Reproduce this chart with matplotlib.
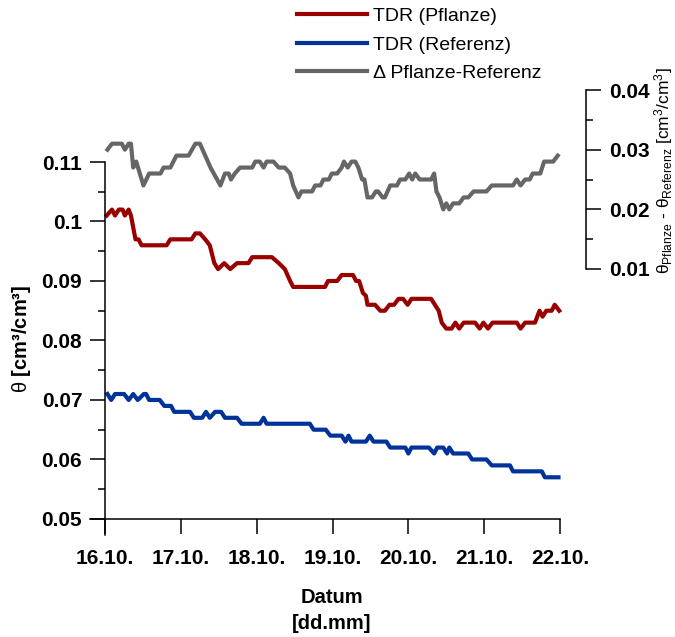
import matplotlib
matplotlib.use("Agg")
import matplotlib.pyplot as plt
from matplotlib.ticker import MultipleLocator

plt.rcParams['font.family'] = ['Liberation Sans', 'DejaVu Sans']
plt.rcParams['mathtext.fontset'] = 'custom'
plt.rcParams['mathtext.rm'] = 'Liberation Sans'
plt.rcParams['mathtext.it'] = 'Liberation Sans'
plt.rcParams['mathtext.bf'] = 'Liberation Sans:bold'

# x positions in days after 16.10.
day_ticks = [0, 1, 2, 3, 4, 5, 6]
day_labels = ['16.10.', '17.10.', '18.10.', '19.10.', '20.10.', '21.10.', '22.10.']

left_ticks = [0.05, 0.06, 0.07, 0.08, 0.09, 0.10, 0.11]
left_labels = ['0.05', '0.06', '0.07', '0.08', '0.09', '0.1', '0.11']
right_ticks = [0.01, 0.02, 0.03, 0.04]
right_labels = ['0.01', '0.02', '0.03', '0.04']

# TDR (Pflanze)
pflanze_t = [0.02, 0.09, 0.13, 0.18, 0.23, 0.26, 0.31, 0.34, 0.40, 0.44, 0.48, 0.81,
             0.86, 1.14, 1.19, 1.25, 1.32, 1.38, 1.44, 1.49, 1.57, 1.65, 1.74, 1.89,
             1.94, 2.20, 2.29, 2.37, 2.44, 2.48, 2.90, 2.94, 3.06, 3.12, 3.27, 3.31,
             3.35, 3.40, 3.44, 3.46, 3.56, 3.63, 3.69, 3.75, 3.81, 3.87, 3.93, 3.99,
             4.04, 4.30, 4.35, 4.40, 4.44, 4.50, 4.57, 4.62, 4.67, 4.73, 4.88, 4.94,
             4.99, 5.05, 5.11, 5.43, 5.48, 5.54, 5.67, 5.73, 5.77, 5.82, 5.89, 5.93, 5.99]
pflanze_v = [0.101, 0.102, 0.101, 0.102, 0.102, 0.101, 0.102, 0.101, 0.097, 0.097, 0.096, 0.096,
             0.097, 0.097, 0.098, 0.098, 0.097, 0.096, 0.093, 0.092, 0.093, 0.092, 0.093, 0.093,
             0.094, 0.094, 0.093, 0.092, 0.090, 0.089, 0.089, 0.090, 0.090, 0.091, 0.091, 0.090,
             0.090, 0.088, 0.0875, 0.086, 0.086, 0.085, 0.085, 0.086, 0.086, 0.087, 0.087, 0.086,
             0.087, 0.087, 0.086, 0.085, 0.083, 0.082, 0.082, 0.083, 0.082, 0.083, 0.083, 0.082,
             0.083, 0.082, 0.083, 0.083, 0.082, 0.083, 0.083, 0.085, 0.084, 0.085, 0.085, 0.086, 0.085]

# TDR (Referenz)
referenz_t = [0.03, 0.08, 0.13, 0.25, 0.31, 0.37, 0.43, 0.51, 0.54, 0.58, 0.72, 0.78,
              0.87, 0.91, 1.12, 1.17, 1.28, 1.33, 1.38, 1.45, 1.53, 1.58, 1.74, 1.80,
              2.04, 2.09, 2.13, 2.70, 2.75, 2.91, 2.97, 3.12, 3.17, 3.21, 3.25, 3.44,
              3.49, 3.54, 3.71, 3.76, 3.96, 4.00, 4.04, 4.27, 4.34, 4.38, 4.46, 4.51,
              4.54, 4.59, 4.79, 4.84, 5.03, 5.10, 5.34, 5.38, 5.76, 5.80, 5.98]
referenz_v = [0.071, 0.070, 0.071, 0.071, 0.070, 0.071, 0.070, 0.071, 0.071, 0.070, 0.070, 0.069,
              0.069, 0.068, 0.068, 0.067, 0.067, 0.068, 0.067, 0.068, 0.068, 0.067, 0.067, 0.066,
              0.066, 0.067, 0.066, 0.066, 0.065, 0.065, 0.064, 0.064, 0.063, 0.064, 0.063, 0.063,
              0.064, 0.063, 0.063, 0.062, 0.062, 0.061, 0.062, 0.062, 0.061, 0.062, 0.062, 0.061,
              0.062, 0.061, 0.061, 0.060, 0.060, 0.059, 0.059, 0.058, 0.058, 0.057, 0.057]

# Delta Pflanze-Referenz (right axis)
delta_t = [0.03, 0.09, 0.22, 0.26, 0.31, 0.34, 0.37, 0.41, 0.505, 0.58, 0.73, 0.77,
           0.86, 0.94, 1.10, 1.19, 1.25, 1.39, 1.52, 1.58, 1.63, 1.66, 1.71, 1.78,
           1.94, 1.98, 2.04, 2.09, 2.13, 2.22, 2.29, 2.37, 2.44, 2.48, 2.55, 2.59,
           2.73, 2.77, 2.84, 2.88, 2.95, 2.99, 3.06, 3.12, 3.15, 3.20, 3.25, 3.30,
           3.34, 3.39, 3.42, 3.46, 3.52, 3.57, 3.60, 3.66, 3.69, 3.76, 3.85, 3.89,
           3.96, 4.01, 4.05, 4.09, 4.15, 4.30, 4.34, 4.37, 4.41, 4.46, 4.50, 4.54,
           4.59, 4.67, 4.73, 4.79, 4.86, 5.03, 5.10, 5.38, 5.43, 5.48, 5.54, 5.60,
           5.64, 5.74, 5.79, 5.91, 5.97]
delta_v = [0.030, 0.031, 0.031, 0.030, 0.031, 0.031, 0.027, 0.028, 0.024, 0.026, 0.026, 0.027,
           0.027, 0.029, 0.029, 0.031, 0.031, 0.027, 0.024, 0.026, 0.026, 0.025, 0.026, 0.027,
           0.027, 0.028, 0.028, 0.027, 0.028, 0.028, 0.027, 0.027, 0.026, 0.024, 0.022, 0.023,
           0.023, 0.024, 0.024, 0.025, 0.025, 0.026, 0.026, 0.027, 0.028, 0.027, 0.028, 0.028,
           0.027, 0.025, 0.025, 0.022, 0.022, 0.023, 0.023, 0.022, 0.022, 0.024, 0.024, 0.025,
           0.025, 0.026, 0.025, 0.026, 0.025, 0.025, 0.026, 0.023, 0.022, 0.020, 0.021, 0.020,
           0.021, 0.021, 0.022, 0.022, 0.023, 0.023, 0.024, 0.024, 0.025, 0.024, 0.025, 0.025,
           0.026, 0.026, 0.028, 0.028, 0.029]

red = '#990000'
blue = '#003399'
gray = '#666666'

fig = plt.figure(figsize=(6.75, 6.37), dpi=100)
ax = fig.add_axes([90/675, 1 - 535/637, 470/675, 373/637])
ax2 = fig.add_axes([90/675, 1 - 269/637, 470/675, 179/637], sharex=ax)

l1, = ax.plot(pflanze_t, pflanze_v, color=red, lw=3, label='TDR (Pflanze)', clip_on=False)
l2, = ax.plot(referenz_t, referenz_v, color=blue, lw=3, label='TDR (Referenz)', clip_on=False)
l3, = ax2.plot(delta_t, delta_v, color=gray, lw=3, label='Δ Pflanze-Referenz', clip_on=False)

# main axis, crossing spines
ax.set_xlim(-0.2, 6)
ax.set_ylim(0.0473, 0.11)
ax.spines['top'].set_visible(False)
ax.spines['right'].set_visible(False)
ax.spines['left'].set_position(('data', 0))
ax.spines['bottom'].set_position(('data', 0.05))
for s in ('left', 'bottom'):
    ax.spines[s].set_linewidth(1.1)
ax.set_xticks(day_ticks)
ax.set_xticklabels(day_labels, fontsize=15, fontweight='bold')
ax.set_yticks(left_ticks)
ax.set_yticklabels(left_labels, fontsize=15, fontweight='bold')
ax.yaxis.set_minor_locator(MultipleLocator(0.005))
ax.tick_params(axis='both', which='major', direction='out', length=10.5, width=1.1)
ax.tick_params(axis='y', which='minor', direction='out', length=5, width=1.1)
ax.tick_params(axis='x', which='major', pad=11)
ax.tick_params(axis='y', which='major', pad=6)
ax.set_ylabel(r'$\theta$ [cm³/cm³]', fontsize=14.5, fontweight='bold', labelpad=6)
ax.yaxis.label.set_y(0.525)
ax.set_xlabel('Datum\n[dd.mm]', fontsize=14.5, fontweight='bold', linespacing=1.45)
ax.xaxis.set_label_coords(0.515, -0.143)

# right axis for the difference
ax2.patch.set_visible(False)
for s in ('top', 'left', 'bottom'):
    ax2.spines[s].set_visible(False)
ax2.spines['right'].set_position(('axes', 496/470))
ax2.spines['right'].set_linewidth(1.1)
ax2.set_ylim(0.01, 0.04)
ax2.yaxis.tick_right()
ax2.yaxis.set_label_position('right')
ax2.set_yticks(right_ticks)
ax2.set_yticklabels(right_labels, fontsize=15, fontweight='bold')
ax2.yaxis.set_minor_locator(MultipleLocator(0.005))
ax2.tick_params(axis='y', which='major', direction='out', length=10.5, width=1.1, pad=6)
ax2.tick_params(axis='y', which='minor', direction='out', length=5, width=1.1)
ax2.tick_params(axis='x', which='both', bottom=False, labelbottom=False)
ax2.set_ylabel(r'$\theta_{\mathrm{Pflanze}}$ - $\theta_{\mathrm{Referenz}}$ [cm$^{3}$/cm$^{3}$]',
               fontsize=12.5, labelpad=1.5)
ax2.yaxis.label.set_y(0.55)

fig.legend(handles=[l1, l2, l3], loc='upper left', bbox_to_anchor=(297/675, 0.988),
           frameon=False, fontsize=14, handlelength=3.6, handletextpad=0.3,
           labelspacing=0.56, borderpad=0, borderaxespad=0)

fig.savefig('out.png', dpi=100)
